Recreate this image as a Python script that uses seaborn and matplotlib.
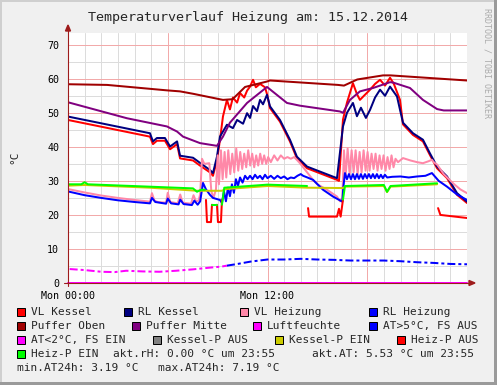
import matplotlib
matplotlib.use("Agg")
import matplotlib.pyplot as plt
import seaborn as sns
from matplotlib.patches import Rectangle, Polygon
from matplotlib.lines import Line2D

W, H = 497, 385

# ---- data: hours since Mon 00:00, values in °C ----
vl_kessel_h = [0, 1.92, 4.93, 5.11, 5.35, 5.83, 6.14, 6.56, 6.74, 7.52, 7.94, 8.54, 8.72, 8.96, 9.14,
               9.32, 9.56, 9.74, 9.92, 10.17, 10.35, 10.6, 10.77, 10.95, 11.13, 11.3, 11.55, 11.85,
               11.97, 12.15, 12.75, 13.35, 13.77, 14.38, 16.18, 16.3, 16.54, 16.78, 17.14, 17.38,
               17.56, 17.8, 18.17, 18.47, 18.77, 19.07, 19.37, 19.6, 19.97, 20.15, 20.75, 21.35,
               21.77, 22.2, 22.8, 23.4, 24.0]
vl_kessel_v = [47.9, 46.0, 43.0, 40.8, 41.8, 41.8, 39.3, 40.8, 36.6, 36.0, 34.5, 32.5, 31.5, 36.0, 42.0,
               48.9, 53.8, 51.0, 54.5, 53.0, 55.8, 54.5, 56.5, 57.7, 59.7, 57.5, 58.5, 57.5,
               55.5, 51.4, 47.4, 41.6, 36.6, 33.7, 30.3, 30.0, 48.0, 53.0, 58.7, 55.5,
               53.8, 55.0, 56.8, 58.5, 59.7, 58.0, 60.3, 58.5, 53.8, 46.6, 43.5, 41.6,
               37.6, 33.7, 30.8, 25.9, 23.5]

rl_kessel_h = [0, 1.92, 4.93, 5.11, 5.35, 5.83, 6.14, 6.56, 6.74, 7.52, 7.94, 8.54, 8.72, 8.96, 9.14,
               9.56, 9.92, 10.17, 10.53, 10.77, 10.95, 11.13, 11.37, 11.55, 11.73, 11.97, 12.15,
               12.75, 13.35, 13.77, 14.38, 16.18, 16.54, 16.78, 17.14, 17.38, 17.62, 17.92, 18.17,
               18.47, 18.77, 19.07, 19.37, 19.79, 19.97, 20.15, 20.75, 21.35, 21.77, 22.2, 22.8,
               23.4, 24.0]
rl_kessel_v = [48.9, 47.0, 44.0, 41.6, 42.6, 42.6, 40.1, 41.6, 37.4, 36.8, 35.3, 33.2, 32.3, 37.1, 43.0,
               46.5, 45.5, 47.9, 46.8, 49.9, 48.5, 52.0, 50.5, 53.8, 52.5, 55.3, 51.9,
               47.9, 42.1, 37.1, 34.2, 30.8, 46.0, 50.0, 52.9, 49.0, 51.5, 48.5, 50.9,
               54.5, 56.8, 55.0, 57.7, 54.8, 50.9, 47.1, 44.0, 42.1, 38.1, 34.2, 31.3,
               26.4, 23.9]

vl_heizung_h = [0, 1.0, 2.0, 3.0, 4.0, 4.93, 5.05, 5.2, 5.4, 5.9, 6.0, 6.15, 6.6, 6.75, 6.9, 7.4, 7.55,
                7.7, 7.85, 7.95, 8.06, 8.2, 8.5, 8.62, 8.75, 8.9, 9.0, 9.08, 9.2, 9.3, 9.42, 9.52,
                9.64, 9.76, 9.88, 10.0, 10.12, 10.24, 10.36, 10.48, 10.6, 10.72, 10.84, 10.96, 11.08,
                11.2, 11.32, 11.44, 11.56, 11.68, 11.8, 11.92, 12.04, 12.2, 12.4, 12.6, 12.8, 13.0,
                13.2, 13.4, 13.6, 13.8, 13.95, 14.74, 15.0, 15.58, 16.18, 16.36, 16.5, 16.6, 16.7,
                16.82, 16.94, 17.06, 17.18, 17.3, 17.42, 17.54, 17.66, 17.78, 17.9, 18.02, 18.14,
                18.26, 18.38, 18.5, 18.62, 18.74, 18.86, 18.98, 19.1, 19.22, 19.34, 19.46, 19.58,
                19.7, 19.85, 20.15, 20.6, 21.0, 21.35, 21.7, 21.89, 22.0, 22.2, 22.6, 23.16, 23.6, 24.0]
vl_heizung_v = [27.6, 26.6, 25.7, 25.0, 24.4, 23.9, 26.4, 24.2, 23.8, 23.6, 26.5, 23.8, 23.4, 26.0, 23.6,
                23.3, 25.8, 24.0, 24.2, 26.0, 36.5, 35.0, 35.2, 27.0, 25.0, 27.5, 37.5, 29.0, 39.0,
                30.5, 38.5, 31.0, 39.0, 32.0, 38.0, 32.5, 39.5, 33.0, 38.5, 33.5, 38.0, 34.0, 39.0,
                34.5, 38.0, 34.0, 37.5, 34.5, 38.0, 35.0, 37.5, 35.0, 37.0, 35.5, 37.5, 36.0, 37.5,
                36.5, 37.0, 36.5, 37.0, 36.0, 35.2, 30.3, 29.0, 27.4, 25.4, 24.0, 25.0, 39.0, 31.5,
                39.5, 32.0, 39.0, 32.5, 39.0, 32.0, 38.5, 32.5, 39.0, 33.0, 38.5, 33.0, 38.0, 33.5,
                38.0, 33.0, 37.5, 33.5, 37.5, 33.0, 37.0, 33.5, 37.5, 34.0, 36.5, 35.5, 36.7, 36.0,
                35.5, 35.2, 35.8, 36.2, 35.5, 34.8, 32.0, 29.3, 27.5, 26.4]

rl_heizung_h = [0, 1.0, 2.0, 3.0, 4.0, 4.93, 5.05, 5.25, 5.9, 6.0, 6.2, 6.65, 6.75, 6.95, 7.45, 7.6, 7.8,
                7.95, 8.12, 8.3, 8.54, 8.72, 9.14, 9.26, 9.38, 9.5, 9.62, 9.74, 9.86, 9.98, 10.1, 10.22,
                10.35, 10.5, 10.65, 10.8, 10.95, 11.1, 11.25, 11.4, 11.55, 11.7, 11.85, 12.0, 12.2,
                12.4, 12.6, 12.8, 13.0, 13.2, 13.4, 13.6, 13.8, 14.0, 14.14, 14.4, 14.74, 15.34,
                15.94, 16.5, 16.56, 16.66, 16.78, 16.9, 17.02, 17.14, 17.26, 17.38, 17.5, 17.62,
                17.74, 17.86, 17.98, 18.1, 18.22, 18.34, 18.46, 18.58, 18.7, 18.82, 18.94, 19.06,
                19.2, 19.5, 20.0, 20.5, 21.0, 21.5, 21.89, 22.3, 22.8, 23.4, 24.0]
rl_heizung_v = [26.9, 25.8, 25.0, 24.3, 23.8, 23.4, 25.0, 23.8, 23.3, 24.8, 23.4, 23.1, 24.5, 23.2, 22.9,
                24.2, 23.0, 24.0, 29.4, 27.5, 25.9, 25.0, 24.4, 23.5, 27.0, 24.0, 28.0, 25.5, 29.0,
                26.5, 30.5, 28.5, 31.0, 29.5, 31.5, 30.5, 31.5, 30.5, 31.8, 30.8, 31.5, 30.5, 31.8,
                30.8, 31.5, 30.6, 31.5, 30.8, 31.3, 30.5, 31.0, 30.8, 31.5, 32.0, 31.5, 31.0, 30.3,
                27.4, 25.4, 23.9, 28.0, 32.3, 30.5, 32.0, 30.5, 32.0, 30.5, 32.0, 30.6, 32.0, 30.6,
                32.0, 30.8, 32.0, 30.8, 32.0, 30.8, 32.0, 30.8, 31.8, 30.8, 31.8, 31.0, 31.2, 31.3,
                31.0, 31.3, 31.5, 32.3, 30.0, 28.3, 26.0, 24.4]

puffer_oben_h = [0, 2.35, 5.95, 6.74, 7.52, 9.32, 9.9, 10.65, 11.97, 12.15, 16.24, 16.6, 17.4, 18.95, 19.4, 24.0]
puffer_oben_v = [58.4, 58.2, 56.6, 56.3, 55.6, 53.8, 54.0, 57.6, 59.2, 59.5, 58.2, 58.0, 59.8, 61.0, 61.0, 59.5]

puffer_mitte_h = [0, 3.55, 5.95, 6.56, 6.92, 7.94, 8.96, 9.32, 9.74, 10.77, 11.97, 13.17, 13.95, 16.36,
                  16.54, 16.96, 17.56, 18.35, 19.37, 19.55, 20.57, 21.35, 22.2, 22.6, 24.0]
puffer_mitte_v = [53.1, 48.4, 46.0, 44.5, 43.0, 41.1, 40.3, 43.0, 47.1, 52.9, 57.6, 52.9, 52.1, 50.4,
                  50.0, 53.8, 56.3, 57.3, 59.0, 58.9, 57.3, 53.8, 51.1, 50.7, 50.7]

luftfeuchte_h = [0, 24.0]
luftfeuchte_v = [0.0, 0.0]

at_low_h = [0.1, 1.0, 2.0, 2.8, 3.5, 4.5, 5.5, 6.5, 7.5, 8.5, 9.2, 9.56]
at_low_v = [4.1, 3.8, 3.3, 3.2, 3.6, 3.4, 3.3, 3.6, 4.0, 4.5, 4.8, 5.1]
at_high_h = [9.56, 10.2, 11.0, 12.0, 13.0, 14.0, 15.0, 16.0, 17.0, 18.0, 19.0, 20.0, 21.0, 22.0, 23.0, 24.0]
at_high_v = [5.1, 5.6, 6.3, 6.9, 6.9, 7.1, 6.9, 6.8, 6.6, 6.6, 6.6, 6.4, 6.1, 5.9, 5.6, 5.5]

kessel_p_ein_h = [0, 1.0, 4.93, 7.76, 9.26, 9.5, 12.0, 14.4, 16.54, 16.66, 19.0, 19.19, 19.4, 22.2]
kessel_p_ein_v = [28.6, 28.8, 28.0, 27.1, 27.1, 27.6, 28.5, 28.0, 27.9, 28.3, 28.5, 26.7, 28.3, 29.0]

heiz_p_ein_segs = [
    ([0, 0.8, 1.0, 1.2, 4.93, 7.52, 7.76, 8.0, 8.24], [29.0, 29.0, 29.6, 29.0, 28.3, 27.8, 26.8, 27.4, 27.4]),
    ([8.66, 8.96], [23.0, 23.0]),
    ([9.26, 9.4, 10.0, 12.0, 14.38], [23.0, 28.0, 28.2, 28.9, 28.5]),
    ([16.54, 16.66, 19.0, 19.19, 19.4, 22.2], [24.5, 28.5, 28.8, 26.8, 28.5, 29.3]),
]
heiz_p_aus_segs = [
    ([8.3, 8.36, 8.6, 8.66], [24.4, 17.9, 17.9, 23.0]),
    ([8.96, 9.02, 9.2, 9.26], [23.0, 17.9, 17.9, 24.4]),
    ([14.44, 14.5, 16.18, 16.3, 16.4, 16.54], [22.0, 19.5, 19.5, 21.8, 19.5, 24.5]),
    ([22.26, 22.4, 24.0], [22.0, 20.0, 19.1]),
]

legend_rows = [
    [("VL Kessel", "#FF0000", 31), ("RL Kessel", "#000080", 138),
     ("VL Heizung", "#FF88A8", 254), ("RL Heizung", "#0000FF", 383)],
    [("Puffer Oben", "#A00000", 31), ("Puffer Mitte", "#800080", 146),
     ("Luftfeuchte", "#FF00FF", 267), ("AT>5°C, FS AUS", "#0000FF", 383)],
    [("AT<2°C, FS EIN", "#FF00FF", 31), ("Kessel-P AUS", "#808080", 167),
     ("Kessel-P EIN", "#CCCC00", 289), ("Heiz-P AUS", "#FF0000", 411)],
    [("Heiz-P EIN", "#00FF00", 31)],
]
legend_baselines = [315, 329, 343, 357, 371]

sns.set_theme(style="white")
plt.rcParams['font.family'] = ['DejaVu Sans Mono']

fig = plt.figure(figsize=(W / 100, H / 100), dpi=100)
fig.patch.set_facecolor('#F0F0F0')


def fx(x):
    return x / W


def fy(y):
    return 1 - y / H


ax = fig.add_axes([fx(68), fy(283), 399 / W, 250.5 / H])
ax.set_facecolor('white')

# grid
for h in range(1, 24):
    ax.axvline(h, color='#F2AAAA' if h % 6 == 0 else '#DCDCDC', lw=0.72, zorder=0)
for v in range(5, 75, 5):
    ax.axhline(v, color='#F2AAAA' if v % 10 == 0 else '#DCDCDC', lw=0.72, zorder=0)

LW = 1.44


def draw(hs, vs, color, **kw):
    sns.lineplot(x=hs, y=vs, ax=ax, color=color, linewidth=LW, estimator=None,
                 sort=False, legend=False, **kw)


draw(vl_kessel_h, vl_kessel_v, "#FF0000")
draw(rl_kessel_h, rl_kessel_v, "#000080")
draw(vl_heizung_h, vl_heizung_v, "#FF88A8")
draw(rl_heizung_h, rl_heizung_v, "#0000FF")
draw(puffer_oben_h, puffer_oben_v, "#A00000")
draw(puffer_mitte_h, puffer_mitte_v, "#800080")
draw(luftfeuchte_h, luftfeuchte_v, "#FF00FF")
ax.lines[-1].set_clip_on(False)
draw(at_high_h, at_high_v, "#0000FF")
ax.lines[-1].set_dashes([4, 1.5, 1.5, 1.5])
draw(at_low_h, at_low_v, "#FF00FF")
ax.lines[-1].set_dashes([4, 1.5, 1.5, 1.5])
draw(kessel_p_ein_h, kessel_p_ein_v, "#CCCC00")
for hs, vs in heiz_p_aus_segs:
    draw(hs, vs, "#FF0000")
for hs, vs in heiz_p_ein_segs:
    draw(hs, vs, "#00FF00")

ax.set_xlim(0, 24)
ax.set_ylim(0, 73.6)
for s in ax.spines.values():
    s.set_visible(False)
ax.set_xticks([0, 6, 12, 18])
ax.set_xticklabels(["Mon 00:00", "", "Mon 12:00", ""])
ax.set_yticks(range(0, 71, 10))
ax.set_xlabel("")
ax.set_ylabel("")
ax.tick_params(axis='both', which='major', length=2, width=0.72, color='#9E1B1B',
               labelsize=7.2, labelcolor='black')
ax.tick_params(axis='x', pad=3.5)
ax.tick_params(axis='y', pad=4.3)

# axes with arrows (rrdtool style)
axis_c = '#9E1B1B'
fig.add_artist(Line2D([fx(68), fx(68)], [fy(286), fy(30)], color=axis_c, lw=0.8))
fig.add_artist(Line2D([fx(64), fx(470)], [fy(283), fy(283)], color=axis_c, lw=0.8))
fig.add_artist(Polygon([(fx(65.5), fy(31)), (fx(70.5), fy(31)), (fx(68), fy(25))],
                       closed=True, color=axis_c, transform=fig.transFigure))
fig.add_artist(Polygon([(fx(469), fy(280.5)), (fx(469), fy(285.5)), (fx(475), fy(283))],
                       closed=True, color=axis_c, transform=fig.transFigure))

# titles and labels
fig.text(fx(248), fy(20.7), "Temperaturverlauf Heizung am: 15.12.2014",
         ha='center', va='baseline', fontsize=9.6)
fig.text(fx(14), fy(157), "°C", rotation=90, ha='center', va='center', fontsize=8)
fig.text(fx(487), fy(8), "RRDTOOL / TOBI OETIKER", rotation=270, ha='center', va='top',
         fontsize=6, color='#ABABAB')

# legend
for row, base in zip(legend_rows, legend_baselines):
    for label, color, tx in row:
        fig.add_artist(Rectangle((fx(tx - 14), fy(base + 0.5)), 8 / W, 8 / H, transform=fig.transFigure,
                                 facecolor=color, edgecolor='black', lw=0.72))
        fig.text(fx(tx), fy(base), label, ha='left', va='baseline', fontsize=8)
fig.text(fx(113), fy(legend_baselines[3]), "akt.rH: 0.00 °C um 23:55", ha='left', va='baseline', fontsize=8)
fig.text(fx(312), fy(legend_baselines[3]), "akt.AT: 5.53 °C um 23:55", ha='left', va='baseline', fontsize=8)
fig.text(fx(17), fy(legend_baselines[4]), "min.AT24h: 3.19 °C", ha='left', va='baseline', fontsize=8)
fig.text(fx(158), fy(legend_baselines[4]), "max.AT24h: 7.19 °C", ha='left', va='baseline', fontsize=8)

# 3d frame
fig.add_artist(Rectangle((0, fy(2)), 1, 2 / H, transform=fig.transFigure, color='#CFCFCF', lw=0))
fig.add_artist(Rectangle((0, 0), 2 / W, 1, transform=fig.transFigure, color='#CFCFCF', lw=0))
fig.add_artist(Rectangle((0, 0), 1, 3 / H, transform=fig.transFigure, color='#9A9A9A', lw=0))
fig.add_artist(Rectangle((fx(494), 0), 3 / W, 1, transform=fig.transFigure, color='#9A9A9A', lw=0))

fig.savefig("out.png", dpi=100, facecolor=fig.get_facecolor())
